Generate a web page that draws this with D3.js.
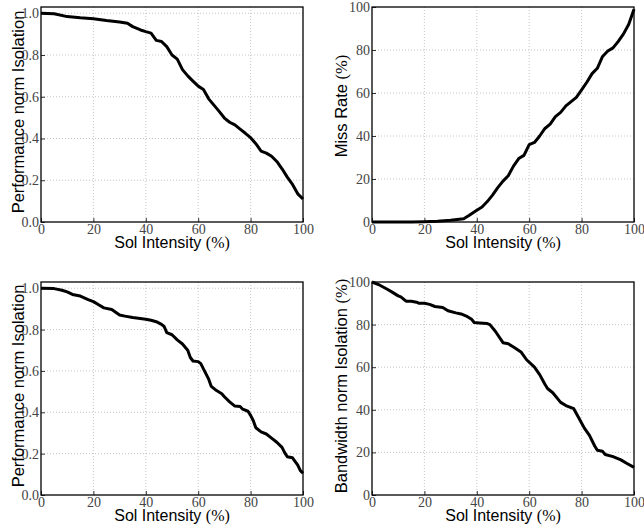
<!DOCTYPE html>
<html>
<head>
<meta charset="utf-8">
<script src="https://cdn.jsdelivr.net/npm/d3@7"></script>
<style>
  body { margin: 0; background: #fff; }
  svg { display: block; }
</style>
</head>
<body>
<div id="chart"></div>
<script>
// values
const xTicks = [0, 20, 40, 60, 80, 100];
const fracTicks = [0.0, 0.2, 0.4, 0.6, 0.8, 1.0];
const pctTicks = [0, 20, 40, 60, 80, 100];

const soiPerfA = [0, 5, 10, 15, 20, 25, 30, 33, 35, 38, 40, 42, 44, 46, 48, 50, 52, 54, 56, 58, 60, 62, 64, 66, 68, 70, 72, 74, 76, 78, 80, 82, 84, 86, 88, 90, 92, 94, 96, 98, 100];
const perfA = [1.0, 0.998, 0.984, 0.978, 0.974, 0.965, 0.958, 0.952, 0.936, 0.92, 0.912, 0.905, 0.87, 0.865, 0.84, 0.80, 0.78, 0.73, 0.70, 0.675, 0.651, 0.635, 0.59, 0.56, 0.53, 0.498, 0.478, 0.465, 0.445, 0.425, 0.404, 0.375, 0.34, 0.33, 0.315, 0.29, 0.255, 0.215, 0.18, 0.135, 0.11];

const soiMiss = [0, 5, 10, 15, 20, 25, 30, 35, 37, 40, 42, 44, 46, 48, 50, 52, 54, 56, 58, 60, 62, 64, 66, 68, 70, 72, 74, 76, 78, 80, 82, 84, 86, 88, 90, 92, 94, 96, 98, 100];
const missRate = [0, 0, 0, 0, 0.1, 0.3, 0.8, 1.5, 3, 5.5, 7, 9.5, 12.5, 16, 19, 21.5, 26, 29.5, 31, 36, 37, 40, 43.5, 45.5, 49, 51, 54, 56, 58, 61.5, 65, 69, 71.5, 77, 79.5, 81, 84, 87.5, 92, 99];

const soiPerfB = [0, 5, 8, 10, 12, 15, 18, 20, 22, 24, 27, 30, 32, 35, 40, 42, 44, 46, 47, 48, 50, 52, 54, 56, 57, 58, 60, 61, 62, 64, 65, 67, 69, 70, 72, 74, 76, 77, 79, 80, 81, 82, 84, 86, 88, 90, 92, 93, 94, 96, 98, 99, 100];
const perfB = [1.0, 0.998, 0.99, 0.982, 0.97, 0.962, 0.945, 0.935, 0.92, 0.905, 0.897, 0.87, 0.865, 0.858, 0.85, 0.845, 0.838, 0.825, 0.815, 0.785, 0.775, 0.75, 0.73, 0.70, 0.665, 0.648, 0.645, 0.635, 0.61, 0.56, 0.525, 0.505, 0.49, 0.475, 0.45, 0.43, 0.428, 0.415, 0.405, 0.385, 0.36, 0.325, 0.305, 0.295, 0.275, 0.255, 0.23, 0.205, 0.185, 0.18, 0.145, 0.118, 0.105];

const soiBw = [0, 3, 6, 8, 10, 11, 13, 15, 17, 18, 20, 22, 24, 27, 29, 32, 34, 36, 38, 39, 41, 44, 45, 47, 50, 52, 54, 57, 59, 62, 64, 66, 67, 69, 72, 74, 77, 79, 81, 83, 85, 86, 88, 89, 92, 95, 97, 100];
const bandwidth = [100, 98.5, 96.5, 95, 93.5, 93, 91, 91, 90.5, 90, 90, 89.5, 88.5, 88, 86.5, 85.5, 85, 84, 82.5, 81, 80.8, 80.5, 80, 77, 71.5, 71, 69.5, 67, 63.5, 60, 56.5, 52, 50, 48, 43.5, 42, 40.5, 36, 31.5, 28, 23, 21, 20.5, 19, 18, 16.5, 15, 13];

const W = 644, H = 529;
const svg = d3.select('#chart').append('svg')
  .attr('width', W)
  .attr('height', H);

// panel boxes in page pixels
const panels = [
  { x0: 41, x1: 303, y0: 7, y1: 222, xs: soiPerfA, ys: perfA, ymax: 1.03, yTicks: fracTicks, fmt: d3.format('.1f'),
    label: 'Performance norm Isolation', pct: false, labelX: 24, labelY: 112 },
  { x0: 372, x1: 634, y0: 7, y1: 222, xs: soiMiss, ys: missRate, ymax: 100, yTicks: pctTicks, fmt: d3.format('d'),
    label: 'Miss Rate ', pct: true, labelX: 347, labelY: 106 },
  { x0: 41, x1: 303, y0: 282, y1: 495, xs: soiPerfB, ys: perfB, ymax: 1.03, yTicks: fracTicks, fmt: d3.format('.1f'),
    label: 'Performance norm Isolation', pct: false, labelX: 24, labelY: 386 },
  { x0: 372, x1: 634, y0: 282, y1: 495, xs: soiBw, ys: bandwidth, ymax: 100, yTicks: pctTicks, fmt: d3.format('d'),
    label: 'Bandwidth norm Isolation ', pct: true, labelX: 347, labelY: 386 }
];

const tickFont = '"Liberation Serif", "DejaVu Serif", serif';
const labelFont = '"Liberation Sans", Arial, sans-serif';

panels.forEach(p => {
  const xScale = d3.scaleLinear().domain([0, 100]).range([p.x0, p.x1]);
  const yScale = d3.scaleLinear().domain([0, p.ymax]).range([p.y1, p.y0]);
  const g = svg.append('g');

  // dotted grid
  g.append('g').selectAll('line')
    .data(xTicks.slice(1, -1))
    .join('line')
    .attr('x1', d => xScale(d)).attr('x2', d => xScale(d))
    .attr('y1', p.y0).attr('y2', p.y1)
    .attr('stroke', '#b8b8b8').attr('stroke-width', 0.8)
    .attr('stroke-dasharray', '1,2');
  g.append('g').selectAll('line')
    .data(p.yTicks.filter(d => yScale(d) > p.y0 + 0.5 && d > 0))
    .join('line')
    .attr('x1', p.x0).attr('x2', p.x1)
    .attr('y1', d => yScale(d)).attr('y2', d => yScale(d))
    .attr('stroke', '#b8b8b8').attr('stroke-width', 0.8)
    .attr('stroke-dasharray', '1,2');

  // axes: labels only, ticks drawn inside
  const xAxis = d3.axisBottom(xScale).tickValues(xTicks).tickSize(-4).tickFormat(d3.format('d'));
  const yAxis = d3.axisLeft(yScale).tickValues(p.yTicks).tickSize(-4).tickFormat(p.fmt);

  const gx = g.append('g').attr('transform', `translate(0,${p.y1})`).call(xAxis);
  const gy = g.append('g').attr('transform', `translate(${p.x0},0)`).call(yAxis);
  [gx, gy].forEach(a => {
    a.attr('font-family', tickFont).attr('font-size', 14);
    a.select('.domain').remove();
    a.selectAll('.tick line').attr('stroke', '#000').attr('stroke-width', 0.8);
    a.selectAll('.tick text')
      .attr('font-family', tickFont)
      .attr('font-size', 14)
      .attr('fill', '#444');
  });
  gx.selectAll('.tick text').attr('dy', null).attr('y', 11.5);
  gy.selectAll('.tick text').attr('x', -2);

  // data line
  const line = d3.line()
    .x(d => xScale(d[0]))
    .y(d => yScale(d[1]));
  g.append('path')
    .datum(d3.zip(p.xs, p.ys))
    .attr('fill', 'none')
    .attr('stroke', '#000')
    .attr('stroke-width', 3)
    .attr('stroke-linejoin', 'round')
    .attr('d', line);

  // frame
  g.append('rect')
    .attr('x', p.x0).attr('y', p.y0)
    .attr('width', p.x1 - p.x0).attr('height', p.y1 - p.y0)
    .attr('fill', 'none').attr('stroke', '#000').attr('stroke-width', 1.3);

  // x label
  const xl = g.append('text')
    .attr('x', (p.x0 + p.x1) / 2)
    .attr('y', p.y1 + 25.5)
    .attr('text-anchor', 'middle')
    .attr('font-family', labelFont)
    .attr('font-size', 16)
    .attr('fill', '#000');
  xl.append('tspan').text('Sol Intensity ');
  xl.append('tspan').attr('font-family', tickFont).text('(%)');

  // y label
  const yl = g.append('text')
    .attr('transform', `translate(${p.labelX},${p.labelY}) rotate(-90)`)
    .attr('text-anchor', 'middle')
    .attr('font-family', labelFont)
    .attr('font-size', 16.5)
    .attr('fill', '#000');
  yl.append('tspan').text(p.label);
  if (p.pct) yl.append('tspan').attr('font-family', tickFont).text('(%)');
});
</script>
</body>
</html>
